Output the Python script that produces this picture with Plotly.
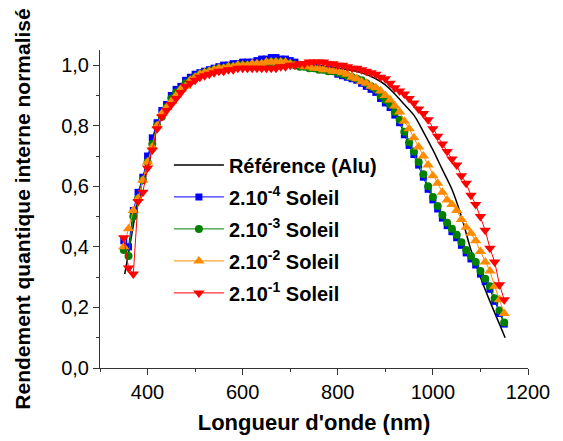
import plotly.graph_objects as go

# wavelength grid (nm)
wl = [350, 360, 370, 380, 390, 400, 410, 420, 430, 440,
      450, 460, 470, 480, 490, 500, 510, 520, 530, 540,
      550, 560, 570, 580, 590, 600, 610, 620, 630, 640,
      650, 660, 670, 680, 690, 700, 710, 720, 730, 740,
      750, 760, 770, 780, 790, 800, 810, 820, 830, 840,
      850, 860, 870, 880, 890, 900, 910, 920, 930, 940,
      950, 960, 970, 980, 990, 1000, 1010, 1020, 1030, 1040,
      1050, 1060, 1070, 1080, 1090, 1100, 1110, 1120, 1130, 1140,
      1150]

ref_wl = [352, 360, 370, 380, 390, 400, 420, 440, 460, 480,
          500, 550, 600, 650, 700, 750, 800, 850, 880, 900,
          920, 940, 960, 980, 1000, 1020, 1040, 1060, 1080, 1100,
          1120, 1140, 1152]
ref_alu = [0.31, 0.38, 0.47, 0.56, 0.62, 0.68, 0.80, 0.86, 0.90, 0.93,
           0.96, 0.99, 1.00, 1.005, 1.005, 1.0, 0.99, 0.975, 0.955, 0.935,
           0.905, 0.87, 0.835, 0.78, 0.72, 0.655, 0.59, 0.50, 0.39, 0.30,
           0.22, 0.145, 0.10]

sun_1e4 = [0.42, 0.40, 0.52, 0.58, 0.63, 0.70, 0.76, 0.81, 0.85, 0.87,
           0.90, 0.92, 0.93, 0.95, 0.96, 0.97, 0.975, 0.98, 0.985, 0.99,
           0.995, 1.0, 1.0, 1.005, 1.005, 1.01, 1.01, 1.01, 1.015, 1.02,
           1.02, 1.025, 1.025, 1.02, 1.02, 1.015, 1.01, 1.0, 1.0, 0.995,
           0.995, 0.99, 0.985, 0.985, 0.98, 0.97, 0.965, 0.96, 0.955, 0.95,
           0.94, 0.93, 0.92, 0.91, 0.89, 0.875, 0.86, 0.835, 0.81, 0.77,
           0.735, 0.705, 0.67, 0.63, 0.59, 0.555, 0.525, 0.495, 0.47, 0.45,
           0.43, 0.405, 0.38, 0.36, 0.34, 0.31, 0.285, 0.26, 0.22, 0.18,
           0.145]

sun_1e3 = [0.39, 0.37, 0.50, 0.56, 0.62, 0.68, 0.74, 0.80, 0.83, 0.86,
           0.89, 0.91, 0.92, 0.94, 0.95, 0.96, 0.97, 0.975, 0.98, 0.985,
           0.99, 0.99, 0.995, 0.995, 1.0, 1.0, 1.0, 1.0, 1.0, 1.005,
           1.005, 1.01, 1.01, 1.01, 1.005, 1.005, 1.0, 0.995, 0.995, 0.99,
           0.99, 0.985, 0.985, 0.98, 0.98, 0.975, 0.97, 0.965, 0.96, 0.955,
           0.95, 0.94, 0.93, 0.92, 0.90, 0.885, 0.87, 0.845, 0.82, 0.78,
           0.745, 0.715, 0.68, 0.64, 0.60, 0.565, 0.535, 0.505, 0.48, 0.46,
           0.44, 0.415, 0.39, 0.37, 0.35, 0.32, 0.295, 0.27, 0.23, 0.19,
           0.15]

sun_1e2 = [0.40, 0.46, 0.52, 0.56, 0.62, 0.68, 0.73, 0.80, 0.84, 0.86,
           0.88, 0.90, 0.92, 0.93, 0.95, 0.96, 0.97, 0.975, 0.98, 0.985,
           0.99, 0.99, 0.995, 0.995, 1.0, 1.0, 1.0, 1.005, 1.005, 1.005,
           1.01, 1.01, 1.01, 1.01, 1.01, 1.005, 1.0, 1.0, 0.995, 0.995,
           0.99, 0.99, 0.985, 0.985, 0.98, 0.98, 0.975, 0.97, 0.96, 0.955,
           0.945, 0.94, 0.93, 0.925, 0.915, 0.90, 0.885, 0.865, 0.845, 0.815,
           0.79, 0.76, 0.73, 0.70, 0.67, 0.635, 0.61, 0.58, 0.555, 0.54,
           0.52, 0.49, 0.465, 0.445, 0.42, 0.385, 0.35, 0.32, 0.27, 0.225,
           0.18]

sun_1e1 = [0.43, 0.33, 0.31, 0.55, 0.58, 0.66, 0.72, 0.79, 0.83, 0.85,
           0.87, 0.89, 0.91, 0.93, 0.94, 0.95, 0.96, 0.965, 0.97, 0.975,
           0.98, 0.98, 0.985, 0.985, 0.99, 0.99, 0.99, 0.99, 0.99, 0.99,
           0.99, 0.99, 0.99, 0.995, 0.995, 1.0, 1.0, 1.005, 1.005, 1.01,
           1.01, 1.01, 1.01, 1.005, 1.005, 1.0, 1.0, 0.995, 0.99, 0.99,
           0.985, 0.98, 0.975, 0.97, 0.96, 0.955, 0.94, 0.925, 0.915, 0.905,
           0.89, 0.875, 0.855, 0.84, 0.82, 0.79, 0.765, 0.74, 0.715, 0.69,
           0.67, 0.635, 0.61, 0.57, 0.54, 0.50, 0.455, 0.395, 0.35, 0.275,
           0.225]

series = [
    ("2.10<sup>-4</sup> Soleil", sun_1e4, "#0000ff", "square", 7),
    ("2.10<sup>-3</sup> Soleil", sun_1e3, "#008000", "circle", 8),
    ("2.10<sup>-2</sup> Soleil", sun_1e2, "#ff8c00", "triangle-up", 10),
    ("2.10<sup>-1</sup> Soleil", sun_1e1, "#ff0000", "triangle-down", 10),
]

fig = go.Figure()

fig.add_trace(go.Scatter(
    x=ref_wl, y=ref_alu, mode="lines", name="Référence (Alu)",
    line=dict(color="black", width=1.5, shape="spline"),
    legendgroup="ref",
))

for name, vals, col, sym, size in series:
    fig.add_trace(go.Scatter(
        x=wl, y=vals, mode="lines+markers", name=name,
        line=dict(color=col, width=1),
        marker=dict(symbol=sym, size=size, color=col, line=dict(width=0)),
        legendgroup=name,
    ))

axis_font = dict(family="Liberation Sans, Arial", size=20, color="black")

fig.update_layout(
    width=563, height=441,
    margin=dict(l=92, r=43, t=42, b=81),
    paper_bgcolor="white",
    plot_bgcolor="white",
    separators=", ",
    showlegend=True,
    legend=dict(
        x=0.161, y=0.70, xanchor="left", yanchor="top",
        bgcolor="rgba(0,0,0,0)",
        font=dict(family="Liberation Sans, Arial", size=20, color="black", weight="bold"),
        tracegroupgap=3,
        itemwidth=50,
    ),
    xaxis=dict(
        range=[300, 1200], tickvals=[400, 600, 800, 1000, 1200],
        ticks="outside", ticklen=6, tickcolor="#333",
        minor=dict(ticks="outside", ticklen=3, dtick=100, tickcolor="#333"),
        showline=True, linecolor="#333", linewidth=1,
        showgrid=False, zeroline=False,
        tickfont=axis_font,
        title=dict(text="Longueur d'onde (nm)",
                   font=dict(family="Liberation Sans, Arial", size=22, color="black", weight="bold"),
                   standoff=12),
    ),
    yaxis=dict(
        range=[0, 1.05], tickvals=[0, 0.2, 0.4, 0.6, 0.8, 1.0], tickformat=".1f",
        ticks="outside", ticklen=6, tickcolor="#333",
        minor=dict(ticks="outside", ticklen=3, dtick=0.1, tickcolor="#333"),
        showline=True, linecolor="#333", linewidth=1,
        showgrid=False, zeroline=False,
        tickfont=axis_font,
        title=dict(text="Rendement quantique interne normalisé",
                   font=dict(family="Liberation Sans, Arial", size=21, color="black", weight="bold"),
                   standoff=24),
    ),
)

fig.write_html("out.html")
